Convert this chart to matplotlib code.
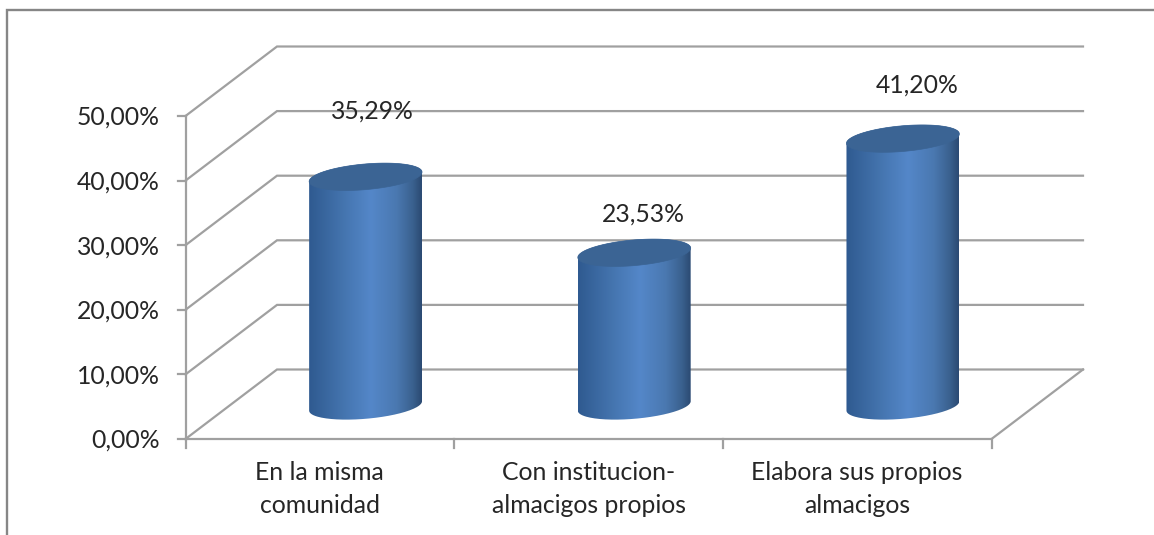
import numpy as np
import matplotlib
matplotlib.use("Agg")
import matplotlib.pyplot as plt
from matplotlib.colors import LinearSegmentedColormap
from matplotlib.path import Path
from matplotlib.patches import PathPatch, Polygon

# ---- data ----
categories = ["En la misma\ncomunidad", "Con institucion-\nalmacigos propios", "Elabora sus propios\nalmacigos"]
values = [35.29, 23.53, 41.20]
value_labels = ["35,29%", "23,53%", "41,20%"]
y_ticks = [0, 10, 20, 30, 40, 50]
y_tick_labels = ["0,00%", "10,00%", "20,00%", "30,00%", "40,00%", "50,00%"]

# ---- layout (pixels) ----
W, H = 1154, 535
X0, X3 = 185.5, 991.5       # front plane, first and last category boundary
Y0, Y50 = 439.0, 116.0      # front plane, value 0 and value 50
DEPTH_X, DEPTH_Y = 91.5, 69.5
PX_X = (X3 - X0) / 3.0
PX_Y = (Y0 - Y50) / 50.0
DX, DY = DEPTH_X / PX_X, DEPTH_Y / PX_Y
label_off = [(7.0, 65.5), (9.0, 38.5), (14.0, 53.5)]   # label shift from the bar top, px

GRID = "#a0a0a0"
TEXT = "#262626"
FRAME = "#868686"
FONT = "Lato"
FS = 17.8

fig = plt.figure(figsize=(W / 100, H / 100), dpi=100, facecolor="white")
ax = fig.add_axes([0, 0, 1, 1])
ax.axis("off")
xlim = (-X0 / PX_X, (W - X0) / PX_X)
ylim = ((Y0 - H) / PX_Y, Y0 / PX_Y)

# frame of the chart area
ax.plot([xlim[1], 7 / PX_X + xlim[0], 7 / PX_X + xlim[0]],
        [Y0 / PX_Y - 10 / PX_Y, Y0 / PX_Y - 10 / PX_Y, ylim[0]],
        color=FRAME, lw=1.7, solid_joinstyle="miter", zorder=1)

# grid on the side and back walls, floor
for v in y_ticks:
    ax.plot([0, DX, 3 + DX], [v, v + DY, v + DY], color=GRID, lw=1.6, zorder=2,
            solid_joinstyle="miter")
ax.plot([0, 3, 3 + DX], [0, 0, DY], color=GRID, lw=1.6, zorder=2)
ax.plot([0, 0], [0, 50], color=GRID, lw=1.6, zorder=2)

# ticks
for v, lab in zip(y_ticks, y_tick_labels):
    ax.plot([-8 / PX_X, 0], [v, v], color=GRID, lw=1.6, zorder=2)
    ax.text(-25.5 / PX_X, v - 1.5 / PX_Y, lab, ha="right", va="center", family=FONT, fontsize=FS, color=TEXT)
for i in range(len(categories) + 1):
    ax.plot([i, i], [0, -9 / PX_Y], color=GRID, lw=1.6, zorder=2)

# category labels
for i, c in enumerate(categories):
    ax.text(i + 0.5, -50 / PX_Y, c, ha="center", va="center", family=FONT, fontsize=FS,
            color=TEXT, linespacing=1.5)

# cylinders
A, B, THETA = 56.65, 12.8, np.radians(5.0)
body_cmap = LinearSegmentedColormap.from_list(
    "cyl", [(0, "#2f5a90"), (0.3, "#4474ae"), (0.55, "#5487c9"), (0.78, "#4a78b0"),
            (0.92, "#3a618f"), (1, "#2b4a72")])
grad = np.linspace(0, 1, 256).reshape(1, -1)


def ell(cx, cy, t):
    """Ellipse points in data units around a data-space centre."""
    x = A * np.cos(t) * np.cos(THETA) - B * np.sin(t) * np.sin(THETA)
    y = A * np.cos(t) * np.sin(THETA) + B * np.sin(t) * np.cos(THETA)
    return np.column_stack([cx + x / PX_X, cy + y / PX_Y])


t0 = np.arctan2(-B * np.sin(THETA), A * np.cos(THETA))
for i, v in enumerate(values):
    cx = i + 0.5 + DX / 2
    base = DY / 2 - 1.7 / PX_Y
    top = DY / 2 + v - 0.5 / PX_Y
    lower = ell(cx, base, np.linspace(t0 + np.pi, t0 + 2 * np.pi, 80))
    upper = ell(cx, top, np.linspace(t0, t0 + np.pi, 80))
    pts = np.vstack([lower, upper, lower[:1]])
    clip = PathPatch(Path(pts), transform=ax.transData, fc="none", ec="none")
    ax.add_patch(clip)
    im = ax.imshow(grad, cmap=body_cmap, aspect="auto", zorder=3, interpolation="bilinear",
                   extent=[pts[:, 0].min(), pts[:, 0].max(), pts[:, 1].min(), pts[:, 1].max()])
    im.set_clip_path(clip)
    ax.add_patch(Polygon(ell(cx, top, np.linspace(0, 2 * np.pi, 160)), closed=True,
                         fc="#3b6494", ec="#3b6494", lw=0.5, zorder=4))
    ox, oy = label_off[i]
    ax.text(cx + ox / PX_X, DY / 2 + v + oy / PX_Y, value_labels[i], ha="center", va="center",
            family=FONT, fontsize=FS, color=TEXT, zorder=5)

ax.set_xlim(*xlim)
ax.set_ylim(*ylim)
fig.savefig("out.png", dpi=100, facecolor="white")
